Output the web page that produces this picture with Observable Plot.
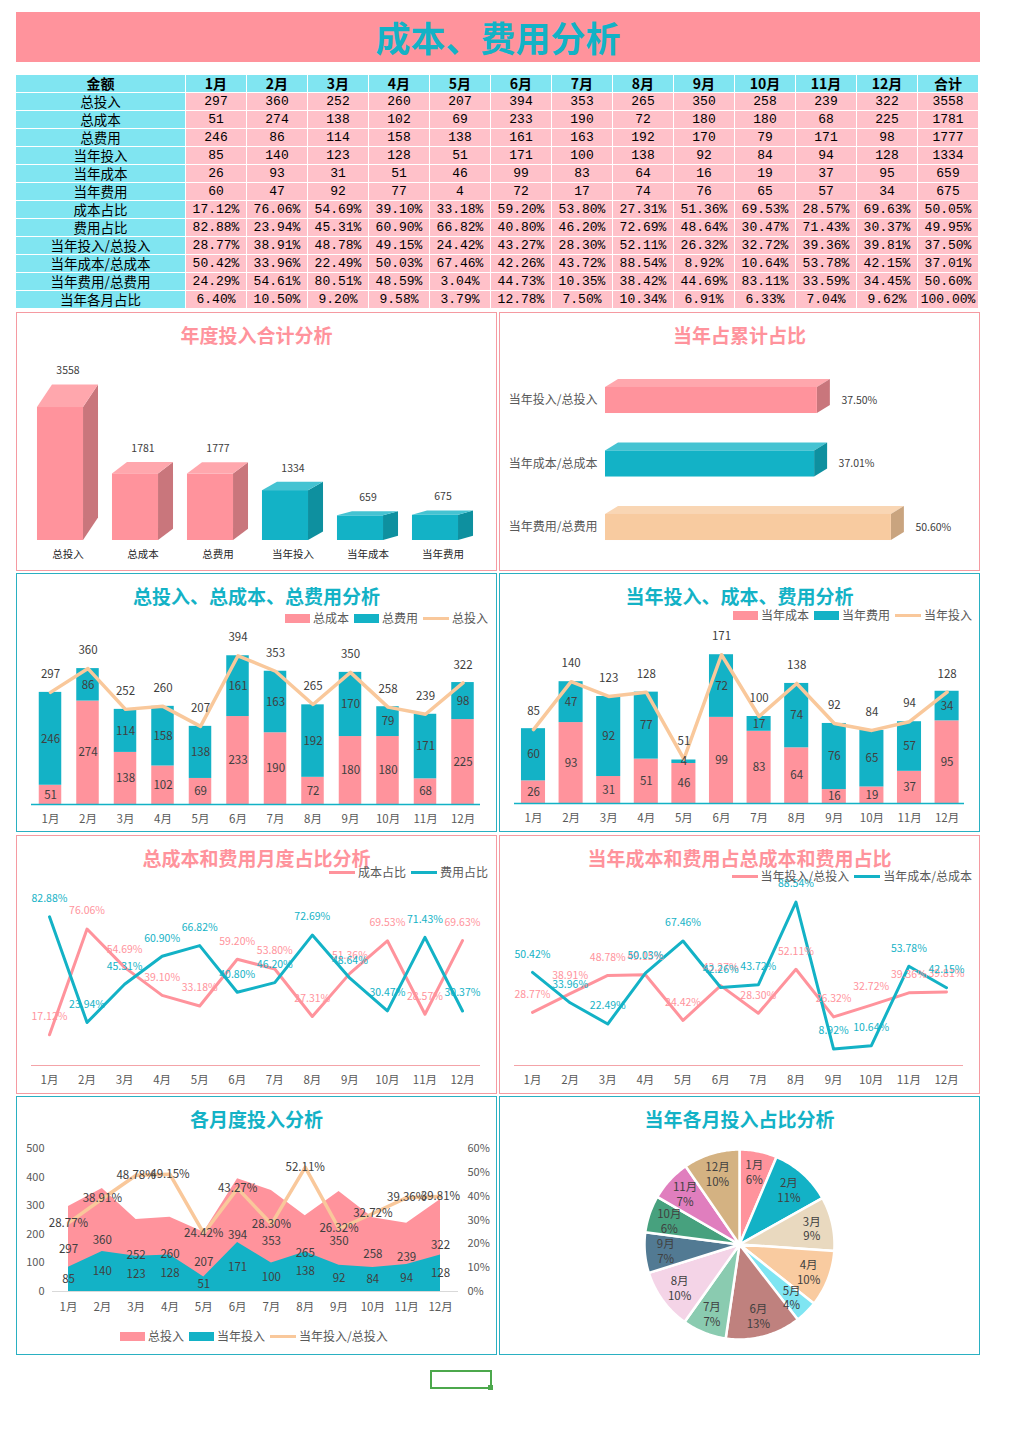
<!DOCTYPE html>
<html><head><meta charset="utf-8">
<script src="https://cdn.jsdelivr.net/npm/d3@7"></script>
<script src="https://cdn.jsdelivr.net/npm/@observablehq/plot@0.6"></script>
<style>
body{margin:0;background:#fff;font-family:"Noto Sans CJK SC","Noto Sans",sans-serif;}
#root{position:relative;width:1010px;height:1435px;overflow:hidden;}
.panel{position:absolute;box-sizing:border-box;border:1px solid;background:#fff;}
.panel svg{position:absolute;left:0;top:0;}
.ptitle{position:absolute;left:0;right:0;top:9px;text-align:center;font-weight:bold;font-size:19px;line-height:26px;white-space:nowrap;z-index:2;}
.legend{position:absolute;font-size:12px;color:#595959;display:flex;align-items:center;white-space:nowrap;line-height:16px;z-index:3;}
.legend .it{display:flex;align-items:center;margin-left:5px;}
.legend .sw{width:25px;height:9px;margin-right:3px;}
.legend .ln{width:26px;height:3px;margin-right:3px;}
#banner{position:absolute;left:16px;top:12px;width:964px;height:50px;background:#FF939C;color:#13B2C6;font-weight:bold;font-size:35px;line-height:50px;text-align:center;}
#table{position:absolute;left:16px;top:75px;display:grid;grid-template-columns:170px repeat(13,61px);grid-auto-rows:18px;}
#table div{box-sizing:border-box;border-right:1px solid #fff;border-bottom:1px solid #fff;text-align:center;line-height:17px;font-size:13px;color:#000;white-space:nowrap;}
#table .h{background:#80E5F1;font-weight:bold;font-size:14px;}
#table .l{background:#80E5F1;font-size:13.5px;}
#table .d{background:#FFC1C9;font-family:"Liberation Mono","DejaVu Sans Mono",monospace;font-size:13px;}
#sel{position:absolute;left:430px;top:1370px;width:62px;height:19px;box-sizing:border-box;border:2px solid #4CA84C;}
#sel2{position:absolute;left:488px;top:1385px;width:5px;height:5px;background:#4CA84C;}
</style></head>
<body><div id="root"></div>
<script>
// ---------------- data ----------------
const months = ["1月","2月","3月","4月","5月","6月","7月","8月","9月","10月","11月","12月"];
const totalInvest = [297,360,252,260,207,394,353,265,350,258,239,322];
const totalCost   = [51,274,138,102,69,233,190,72,180,180,68,225];
const totalFee    = [246,86,114,158,138,161,163,192,170,79,171,98];
const yearInvest  = [85,140,123,128,51,171,100,138,92,84,94,128];
const yearCost    = [26,93,31,51,46,99,83,64,16,19,37,95];
const yearFee     = [60,47,92,77,4,72,17,74,76,65,57,34];
const costShare   = [17.12,76.06,54.69,39.10,33.18,59.20,53.80,27.31,51.36,69.53,28.57,69.63];
const feeShare    = [82.88,23.94,45.31,60.90,66.82,40.80,46.20,72.69,48.64,30.47,71.43,30.37];
const investRatio = [28.77,38.91,48.78,49.15,24.42,43.27,28.30,52.11,26.32,32.72,39.36,39.81];
const costRatio   = [50.42,33.96,22.49,50.03,67.46,42.26,43.72,88.54,8.92,10.64,53.78,42.15];
const feeRatio    = [24.29,54.61,80.51,48.59,3.04,44.73,10.35,38.42,44.69,83.11,33.59,34.45];
const monthShare  = [6.40,10.50,9.20,9.58,3.79,12.78,7.50,10.34,6.91,6.33,7.04,9.62];
const totalCategories = ["总投入","总成本","总费用","当年投入","当年成本","当年费用"];
const totalValues = [3558,1781,1777,1334,659,675];
const pctRowTotals = [50.05,49.95,37.50,37.01,50.60,100.00];
const ratioCategories = ["当年投入/总投入","当年成本/总成本","当年费用/总费用"];
const ratioValues = [37.50,37.01,50.60];
const pieLabels = ["6%","11%","9%","10%","4%","13%","7%","10%","7%","6%","7%","10%"];
const leftTicks = [0,100,200,300,400,500];
const rightTicks = [0,10,20,30,40,50,60];
const tableHead = "金额";
const tableTotalHead = "合计";
const rowNames = ["总投入","总成本","总费用","当年投入","当年成本","当年费用","成本占比","费用占比","当年投入/总投入","当年成本/总成本","当年费用/总费用","当年各月占比"];

// ---------------- styles ----------------
const PINK="#FF939C", CYAN="#13B2C6", PEACH="#F9C89B", TXT="#404040", AX="#595959";
const PBORDER="#F59AA1", CBORDER="#2AB0C2";
const FONT='"Noto Sans CJK SC","Noto Sans",sans-serif';
const PIE=["#FF939C","#13B2C6","#E9D9BF","#F9CBA0","#7FE5F2","#BF817E","#8ACBB0","#F4D4E7","#527A93","#47A17E","#E07EBE","#D4B282"];

const root = document.getElementById("root");
function el(tag, cls, parent){const e=document.createElement(tag); if(cls) e.className=cls; (parent||root).appendChild(e); return e;}

// banner
const banner = el("div"); banner.id="banner"; banner.textContent="成本、费用分析";

// table
const table = el("div"); table.id="table";
[tableHead, ...months, tableTotalHead].forEach(t=>{const c=el("div","h",table); c.textContent=t;});
const rowSeries=[totalInvest,totalCost,totalFee,yearInvest,yearCost,yearFee,costShare,feeShare,investRatio,costRatio,feeRatio,monthShare];
rowSeries.forEach((s,r)=>{
  const isPct = r>=6;
  const fmt = v => isPct ? v.toFixed(2)+"%" : String(v);
  const lab=el("div","l",table); lab.textContent=rowNames[r];
  s.forEach(v=>{const c=el("div","d",table); c.textContent=fmt(v);});
  const tot=el("div","d",table); tot.textContent=fmt(isPct?pctRowTotals[r-6]:totalValues[r]);
});

function panel(x,y,border,title,tcolor){
  const d=el("div","panel"); Object.assign(d.style,{left:x+"px",top:y+"px",width:"481px",height:"259px",borderColor:border});
  const t=el("div","ptitle",d); t.textContent=title; t.style.color=tcolor;
  return d;
}
function legend(p, items, pos){
  const L=el("div","legend",p); Object.assign(L.style,pos);
  items.forEach(it=>{const w=el("div","it",L); const s=el("div",it.line?"ln":"sw",w); s.style.background=it.color; const t=el("span",null,w); t.textContent=it.label;});
  return L;
}
function mkPlot(opts){
  return Plot.plot({width:479,height:257,margin:0,
    style:{background:"transparent",fontFamily:FONT,fontSize:"11.5px",color:TXT,overflow:"visible"},
    color:{type:"identity"}, ...opts});
}

// ---------------- Panel 1: 3D column totals ----------------
{
  const p=panel(16,312,PBORDER,"年度投入合计分析",PINK);
  const HW=0.307, DX=0.2, DR=0.17;
  const FRONT=[PINK,CYAN], SIDE=["#C9767C","#0E909F"], TOP=["#FFA7AD","#45C3D2"];
  const bars=totalCategories.map((name,i)=>({i,name,v:totalValues[i],g:i<3?0:1}));
  const top=[], side=[];
  bars.forEach(b=>{
    const x1=b.i-HW, x2=b.i+HW, h=b.v*DR, c=TOP[b.g], s=SIDE[b.g];
    top.push({id:b.i,c,x:x1,y1:b.v,y2:b.v},{id:b.i,c,x:x1+DX,y1:b.v,y2:b.v+h},{id:b.i,c,x:x2,y1:b.v,y2:b.v+h},{id:b.i,c,x:x2+DX,y1:b.v+h,y2:b.v+h});
    side.push({id:b.i,c:s,x:x2,y1:0,y2:b.v},{id:b.i,c:s,x:x2+DX,y1:h,y2:b.v+h});
  });
  const svg=mkPlot({
    x:{type:"linear",domain:[-0.5,5.5],range:[5.5,455.5],axis:null},
    y:{type:"linear",domain:[0,4000],range:[227,77.5],axis:null},
    marks:[
      Plot.areaY(side,{x:"x",y1:"y1",y2:"y2",z:"id",fill:"c"}),
      Plot.areaY(top,{x:"x",y1:"y1",y2:"y2",z:"id",fill:"c"}),
      Plot.rectY(bars,{x1:d=>d.i-HW,x2:d=>d.i+HW,y1:d=>0,y2:"v",fill:d=>FRONT[d.g]}),
      Plot.text(bars,{x:d=>d.i+0.1,y:d=>d.v*(1+DR),text:d=>String(d.v),dy:-14,fontSize:10.5,fill:TXT}),
      Plot.text(bars,{x:d=>d.i+0.1,y:d=>0,text:"name",dy:14,fontSize:10.5,fill:"#262626"})
    ]});
  p.appendChild(svg);
}

// ---------------- Panel 2: 3D horizontal bars ----------------
{
  const p=panel(499,312,PBORDER,"当年占累计占比",PINK);
  const HW=0.205, DY=0.126, DX=2.3;
  const FRONT=[PINK,CYAN,"#F8CBA0"], SIDE=["#C9767C","#0E909F","#C9A47F"], TOP=["#FFA7AD","#45C3D2","#F9D6B4"];
  const bars=ratioCategories.map((name,i)=>({i,name,v:ratioValues[i]}));
  const top=[], side=[];
  bars.forEach(b=>{
    const i=b.i, v=b.v, c=TOP[i], s=SIDE[i];
    top.push({id:i,c,x:0,y1:i-HW,y2:i-HW},{id:i,c,x:DX,y1:i-HW,y2:i-HW-DY},{id:i,c,x:v,y1:i-HW,y2:i-HW-DY},{id:i,c,x:v+DX,y1:i-HW-DY,y2:i-HW-DY});
    side.push({id:i,c:s,y:i-HW-DY,x1:v+DX,x2:v+DX},{id:i,c:s,y:i-HW,x1:v,x2:v+DX},{id:i,c:s,y:i+HW-DY,x1:v,x2:v+DX},{id:i,c:s,y:i+HW,x1:v,x2:v});
  });
  const svg=mkPlot({
    x:{type:"linear",domain:[0,60],range:[105,444],axis:null},
    y:{type:"linear",domain:[-0.5,2.5],range:[55.25,245.75],axis:null},
    marks:[
      Plot.areaY(top,{x:"x",y1:"y1",y2:"y2",z:"id",fill:"c"}),
      Plot.areaX(side,{y:"y",x1:"x1",x2:"x2",z:"id",fill:"c"}),
      Plot.rectX(bars,{x1:d=>0,x2:"v",y1:d=>d.i-HW,y2:d=>d.i+HW,fill:d=>FRONT[d.i]}),
      Plot.text(bars,{x:"v",y:"i",text:d=>d.v.toFixed(2)+"%",dx:24,textAnchor:"start",fontSize:10.5,fill:TXT}),
      Plot.text(bars,{x:d=>0,y:"i",text:"name",dx:-8,textAnchor:"end",fontSize:12,fill:AX})
    ]});
  p.appendChild(svg);
}

// ---------------- stacked column + line helper ----------------
function stackPanel(x,y,title,cost,fee,inv,labels,xr,pin,pout,yDomain,yRange,mL,mR,legendPos){
  const p=panel(x,y,CBORDER,title,CYAN);
  legend(p,[{color:PINK,label:labels[0]},{color:CYAN,label:labels[1]},{color:PEACH,label:labels[2],line:true}],legendPos);
  const stack=[];
  months.forEach((m,i)=>{
    stack.push({m,y1:0,y2:cost[i],v:cost[i],c:PINK});
    stack.push({m,y1:cost[i],y2:cost[i]+fee[i],v:fee[i],c:CYAN});
  });
  const line=months.map((m,i)=>({m,v:inv[i]}));
  const svg=mkPlot({
    marginLeft:mL, marginRight:mR,
    x:{type:"band",domain:months,range:xr,paddingInner:pin,paddingOuter:pout,align:0.5,round:false,axis:null},
    y:{type:"linear",domain:yDomain,range:yRange,axis:null},
    marks:[
      Plot.barY(stack,{x:"m",y1:"y1",y2:"y2",fill:"c"}),
      Plot.ruleY([0],{stroke:CYAN,strokeWidth:1.5}),
      Plot.line(line,{x:"m",y:"v",stroke:PEACH,strokeWidth:3.5}),
      Plot.text(stack,{x:"m",y:d=>(d.y1+d.y2)/2,text:d=>String(d.v),fill:TXT,fontSize:11.5}),
      Plot.text(line,{x:"m",y:"v",text:d=>String(d.v),dy:-18,fill:TXT,fontSize:11.5}),
      Plot.text(months,{x:d=>d,y:d=>0,text:d=>d,dy:15,fill:AX,fontSize:11.5})
    ]});
  p.appendChild(svg);
}
stackPanel(16,573,"总投入、总成本、总费用分析",totalCost,totalFee,totalInvest,["总成本","总费用","总投入"],
  [14.25,464.25],0.4,0.2,[0,500],[230,41.25],14,16,{right:"8px",top:"36px"});
stackPanel(499,573,"当年投入、成本、费用分析",yearCost,yearFee,yearInvest,["当年成本","当年费用","当年投入"],
  [14.2,465.4],0.36,0.18,[0,200],[229,55],14,15,{right:"7px",top:"33px"});

// ---------------- line panels ----------------
function linePanel(x,y,title,s1,s2,labels,xr,yRange,legendPos){
  const p=panel(x,y,PBORDER,title,PINK);
  legend(p,[{color:PINK,label:labels[0],line:true},{color:CYAN,label:labels[1],line:true}],legendPos);
  const a=months.map((m,i)=>({m,v:s1[i]})), b=months.map((m,i)=>({m,v:s2[i]}));
  const svg=mkPlot({
    marginLeft:14, marginRight:16,
    x:{type:"point",domain:months,range:xr,padding:0,round:false,axis:null},
    y:{type:"linear",domain:[0,100],range:yRange,axis:null},
    marks:[
      Plot.ruleY([0],{stroke:"#F4A3A8",strokeWidth:1}),
      Plot.line(a,{x:"m",y:"v",stroke:PINK,strokeWidth:3}),
      Plot.line(b,{x:"m",y:"v",stroke:CYAN,strokeWidth:3}),
      Plot.text(a,{x:"m",y:"v",text:d=>d.v.toFixed(2)+"%",dy:-18,fill:PINK,fontSize:10.5}),
      Plot.text(b,{x:"m",y:"v",text:d=>d.v.toFixed(2)+"%",dy:-18,fill:CYAN,fontSize:10.5}),
      Plot.text(months,{x:d=>d,y:d=>0,text:d=>d,dy:15,fill:AX,fontSize:11.5})
    ]});
  p.appendChild(svg);
}
linePanel(16,835,"总成本和费用月度占比分析",costShare,feeShare,["成本占比","费用占比"],[32,445],[229,49.6],{right:"8px",top:"28px"});
linePanel(499,835,"当年成本和费用占总成本和费用占比",investRatio,costRatio,["当年投入/总投入","当年成本/总成本"],[32,446],[229,44.4],{right:"7px",top:"32px"});

// ---------------- Panel 7: area + ratio line ----------------
{
  const p=panel(16,1096,CBORDER,"各月度投入分析",CYAN);
  legend(p,[{color:PINK,label:"总投入"},{color:CYAN,label:"当年投入"},{color:PEACH,label:"当年投入/总投入",line:true}],{left:"98px",top:"231px"});
  const K=500/60;
  const tot=months.map((m,i)=>({m,v:totalInvest[i]}));
  const yr=months.map((m,i)=>({m,v:yearInvest[i]}));
  const rt=months.map((m,i)=>({m,v:investRatio[i]}));
  const svg=mkPlot({
    marginLeft:35, marginRight:38,
    x:{type:"point",domain:months,range:[51,423],padding:0,round:false,axis:null},
    y:{type:"linear",domain:[0,500],range:[194,51],axis:null},
    marks:[
      Plot.areaY(tot,{x:"m",y:"v",fill:PINK}),
      Plot.areaY(yr,{x:"m",y:"v",fill:CYAN}),
      Plot.ruleY([0],{stroke:"#D9D9D9",strokeWidth:1}),
      Plot.line(rt,{x:"m",y:d=>d.v*K,stroke:PEACH,strokeWidth:3.5}),
      Plot.text(tot,{x:"m",y:d=>d.v/2,text:d=>String(d.v),fill:TXT,fontSize:11.5}),
      Plot.text(yr,{x:"m",y:d=>d.v/2,text:d=>String(d.v),fill:TXT,fontSize:11.5}),
      Plot.text(rt,{x:"m",y:d=>d.v*K,text:d=>d.v.toFixed(2)+"%",fill:TXT,fontSize:11.5}),
      Plot.text(leftTicks,{y:d=>d,text:d=>String(d),frameAnchor:"left",textAnchor:"end",dx:-8,fill:AX,fontSize:11}),
      Plot.text(rightTicks,{y:d=>d*K,text:d=>d+"%",frameAnchor:"right",textAnchor:"start",dx:9,fill:AX,fontSize:11}),
      Plot.text(months,{x:d=>d,y:d=>0,text:d=>d,dy:16,fill:AX,fontSize:11.5})
    ]});
  p.appendChild(svg);
}

// ---------------- Panel 8: pie ----------------
{
  const p=panel(499,1096,CBORDER,"当年各月投入占比分析",CYAN);
  const sum=d3.sum(yearInvest);
  let acc=0;
  const pie=months.map((m,i)=>{const a0=acc/sum*2*Math.PI; acc+=yearInvest[i]; const a1=acc/sum*2*Math.PI; return {m,i,a0,a1,mid:(a0+a1)/2,lab:pieLabels[i],c:PIE[i]};});
  const slices=[];
  pie.forEach(s=>{
    slices.push({id:s.i,c:s.c,x:0,y:0});
    const n=Math.max(2,Math.ceil((s.a1-s.a0)/0.02));
    for(let k=0;k<=n;k++){const a=s.a0+(s.a1-s.a0)*k/n; slices.push({id:s.i,c:s.c,x:Math.sin(a),y:Math.cos(a)});}
    slices.push({id:s.i,c:s.c,x:0,y:0});
  });
  const R=0.78;
  const svg=mkPlot({
    x:{type:"linear",domain:[-1,1],range:[144,334],axis:null},
    y:{type:"linear",domain:[-1,1],range:[242,52],axis:null},
    marks:[
      Plot.line(slices,{x:"x",y:"y",z:"id",fill:"c",stroke:"white",strokeWidth:2.5,strokeLinejoin:"round"}),
      Plot.text(pie,{x:d=>R*Math.sin(d.mid),y:d=>R*Math.cos(d.mid),text:d=>d.m+"\n"+d.lab,lineHeight:1.3,fill:TXT,fontSize:11.5})
    ]});
  p.appendChild(svg);
}

// spreadsheet selection box
el("div").id="sel"; el("div").id="sel2";
</script>
</body></html>
